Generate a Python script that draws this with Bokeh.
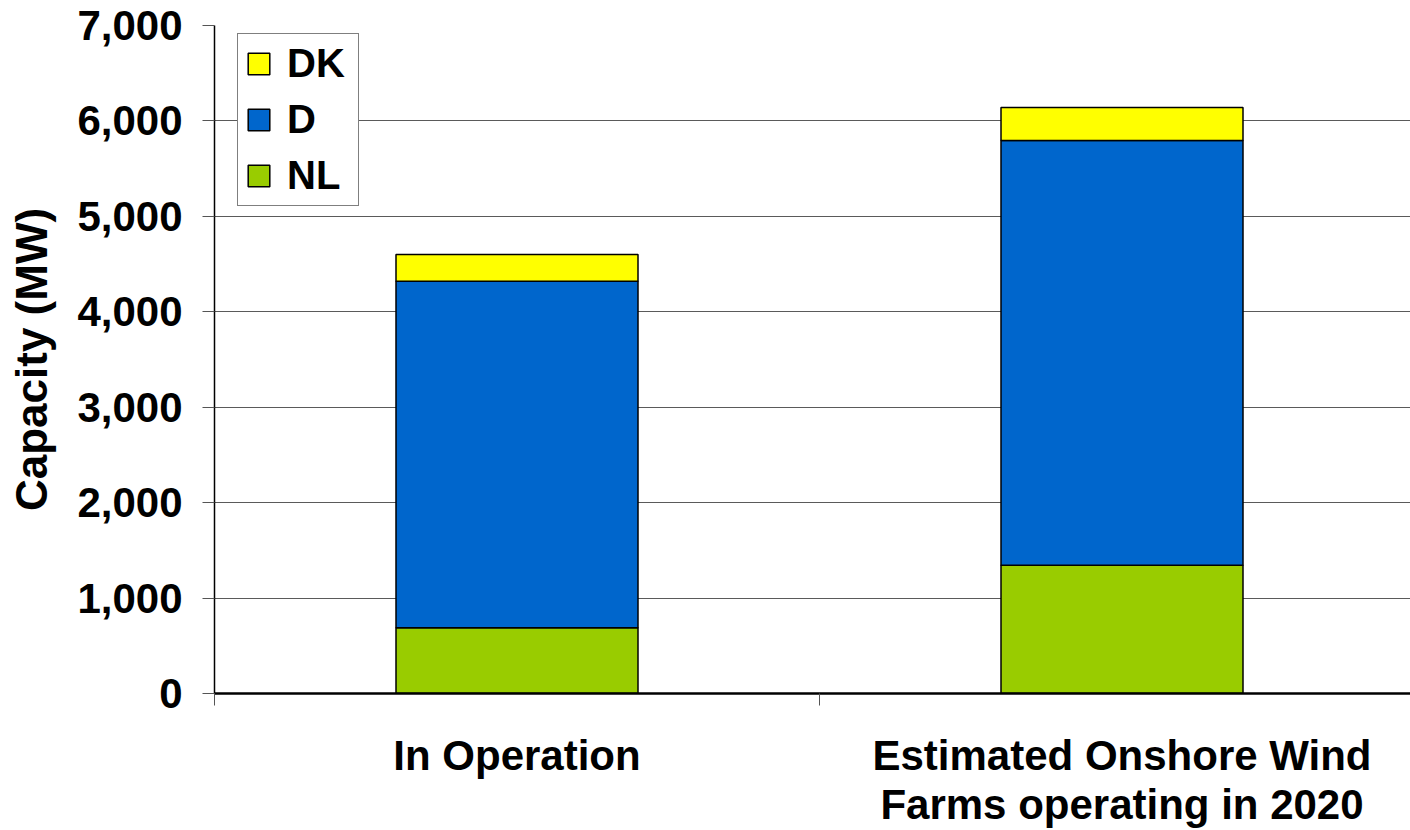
from bokeh.plotting import figure
from bokeh.models import (Range1d, FixedTicker, NumeralTickFormatter, Legend, LegendItem,
                          ColumnDataSource)
from bokeh.core.properties import value
from bokeh.embed import file_html
from bokeh.resources import INLINE

# ---- data ----
categories = ["In Operation", "Estimated Onshore Wind\nFarms operating in 2020"]
series = ["NL", "D", "DK"]
nl = [690, 1345]
d = [3630, 4450]
dk = [280, 345]
y_ticks = [0, 1000, 2000, 3000, 4000, 5000, 6000, 7000]

colors = {"NL": "#99CC00", "D": "#0066CC", "DK": "#FFFF00"}
FONT = "Liberation Sans"

xs = [i + 0.5 for i in range(len(categories))]
bounds = list(range(len(categories) + 1))
src = ColumnDataSource(dict(x=xs, NL=nl, D=d, DK=dk))

p = figure(width=1410, height=830,
           x_range=Range1d(0, 1196 / 605), y_range=Range1d(0, 7000),
           output_backend="svg", toolbar_location=None,
           min_border_left=214, min_border_top=25, min_border_right=0, min_border_bottom=137)
p.outline_line_color = None
p.background_fill_color = "white"
p.border_fill_color = "white"

renderers = p.vbar_stack(series, x="x", width=0.4, source=src,
                         fill_color=[colors[s] for s in series],
                         line_color="black", line_width=1.5)
rmap = dict(zip(series, renderers))

# grid
p.xgrid.grid_line_color = None
p.ygrid.ticker = FixedTicker(ticks=y_ticks)
p.ygrid.grid_line_color = "#5a5a5a"
p.ygrid.grid_line_width = 1

# y axis
p.yaxis.ticker = FixedTicker(ticks=y_ticks)
p.yaxis.formatter = NumeralTickFormatter(format="0,0")
p.yaxis.major_label_text_font = FONT
p.yaxis.major_label_text_font_style = "bold"
p.yaxis.major_label_text_font_size = "42px"
p.yaxis.major_label_text_color = "black"
p.yaxis.major_tick_out = 12
p.yaxis.major_tick_in = 0
p.yaxis.minor_tick_line_color = None
p.yaxis.major_tick_line_color = "#555555"
p.yaxis.axis_line_color = "black"
p.yaxis.axis_line_width = 1.5
p.yaxis.major_label_standoff = 20
p.yaxis.axis_label = "Capacity (MW)"
p.yaxis.axis_label_text_font = FONT
p.yaxis.axis_label_text_font_style = "bold"
p.yaxis.axis_label_text_font_size = "44px"
p.yaxis.axis_label_text_color = "black"
p.yaxis.axis_label_standoff = 18

# x axis: labels at category centres, minor tick marks at category boundaries
p.xaxis.ticker = FixedTicker(ticks=xs, minor_ticks=bounds)
p.xaxis.major_label_overrides = {x: c for x, c in zip(xs, categories)}
p.xaxis.major_tick_out = 0
p.xaxis.major_tick_in = 0
p.xaxis.major_tick_line_color = None
p.xaxis.minor_tick_out = 12
p.xaxis.minor_tick_in = 0
p.xaxis.minor_tick_line_color = "#555555"
p.xaxis.axis_line_color = "black"
p.xaxis.axis_line_width = 2.5
p.xaxis.major_label_standoff = 26
p.xaxis.major_label_text_font = FONT
p.xaxis.major_label_text_font_style = "bold"
p.xaxis.major_label_text_font_size = "42px"
p.xaxis.major_label_text_color = "black"
p.xaxis.major_label_text_line_height = 1.05

legend = Legend(items=[LegendItem(label=value(s), renderers=[rmap[s]]) for s in ["DK", "D", "NL"]],
                location=(23, 487))
legend.label_text_font = FONT
legend.label_text_font_style = "bold"
legend.label_text_font_size = "40px"
legend.label_text_color = "black"
legend.glyph_width = 27
legend.glyph_height = 27
legend.label_standoff = 15
legend.label_width = 64
legend.padding = 7
legend.spacing = 11
legend.margin = 0
legend.border_line_color = "black"
legend.border_line_width = 1
legend.background_fill_color = "white"
legend.background_fill_alpha = 1
p.add_layout(legend)

open("out.html", "w").write(file_html(p, INLINE))
